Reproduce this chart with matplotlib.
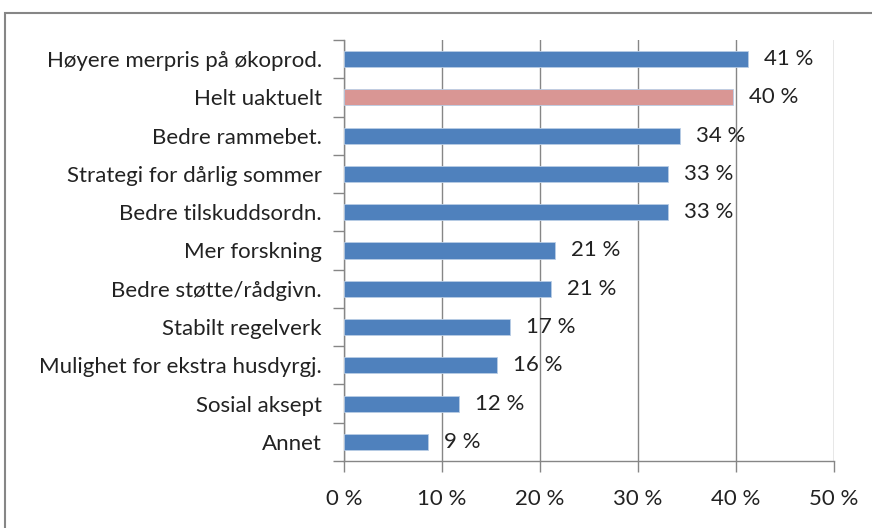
import matplotlib
matplotlib.use("Agg")
import matplotlib.pyplot as plt
from matplotlib.patches import Rectangle
from matplotlib.ticker import FixedLocator

categories = ["Høyere merpris på økoprod.", "Helt uaktuelt", "Bedre rammebet.",
              "Strategi for dårlig sommer", "Bedre tilskuddsordn.", "Mer forskning",
              "Bedre støtte/rådgivn.", "Stabilt regelverk", "Mulighet for ekstra husdyrgj.",
              "Sosial aksept", "Annet"]
values = [41.2, 39.7, 34.3, 33.1, 33.1, 21.5, 21.1, 16.9, 15.6, 11.7, 8.6]
labels = ["41 %", "40 %", "34 %", "33 %", "33 %", "21 %", "21 %", "17 %", "16 %", "12 %", "9 %"]
xticks = [0, 10, 20, 30, 40, 50]
xticklabels = ["0 %", "10 %", "20 %", "30 %", "40 %", "50 %"]
highlight = "Helt uaktuelt"

plt.rcParams['font.family'] = ['Lato', 'DejaVu Sans']
W, H = 872, 528
FS = 16
TXT = "#222222"
fig = plt.figure(figsize=(W / 100, H / 100), dpi=100)
fig.patch.set_facecolor("white")

# outer border
fig.add_artist(Rectangle((5 / W, -0.05), 1.0, (H - 13) / H + 0.05, transform=fig.transFigure,
                         fill=False, edgecolor="#868686", linewidth=1.5))

left, right, top, bottom = 344, 834, 40, 461
ax = fig.add_axes([left / W, 1 - bottom / H, (right - left) / W, (bottom - top) / H])

n = len(categories)
ypos = list(range(n))
colors = ["#D99694" if c == highlight else "#4F81BD" for c in categories]
ax.barh(ypos, values, height=0.42, color=colors, edgecolor="#B9CDE5", linewidth=0.6, zorder=3)
ax.set_ylim(n - 0.5, -0.5)
ax.set_xlim(0, 50)

ax.set_yticks(ypos)
ax.set_yticklabels(categories, fontsize=FS, color=TXT)
ax.tick_params(axis="y", which="major", length=0, pad=16)
ax.yaxis.set_minor_locator(FixedLocator([i - 0.5 for i in range(n + 1)]))
ax.tick_params(axis="y", which="minor", length=8, color="#868686", width=1)

ax.set_xticks(xticks)
ax.set_xticklabels(xticklabels, fontsize=FS, color=TXT)
ax.tick_params(axis="x", length=8, color="#868686", width=1, pad=12)

ax.grid(axis="x", color="#868686", linewidth=1, zorder=0)
for s in ["top", "right"]:
    ax.spines[s].set_visible(False)
for s in ["left", "bottom"]:
    ax.spines[s].set_color("#868686")
    ax.spines[s].set_linewidth(1)

for y, v, lab in zip(ypos, values, labels):
    ax.annotate(lab, xy=(v, y), xytext=(11.5, 0), textcoords="offset points",
                va="center", ha="left", fontsize=FS, color=TXT, zorder=4)

fig.savefig("out.png", dpi=100)
